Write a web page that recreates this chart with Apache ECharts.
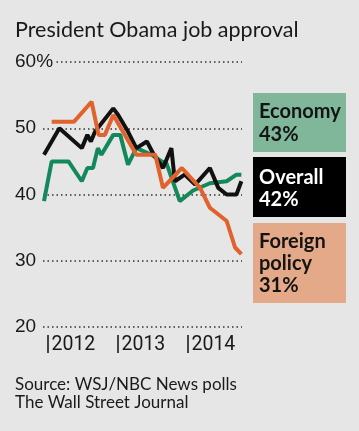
<!DOCTYPE html>
<html>
<head>
<meta charset="utf-8">
<script src="https://cdn.jsdelivr.net/npm/echarts@6/dist/echarts.min.js"></script>
<style>
html,body{margin:0;padding:0;background:#e6e6e6;}
#chart{width:359px;height:431px;}
</style>
</head>
<body>
<div id="chart"></div>
<script>
// ---- data (decimal years, percent approval) ----
var yTicks = [20, 30, 40, 50, 60];
var yearTicks = [2012, 2013, 2014];

var overallX = [2011.95,2012.17,2012.49,2012.57,2012.62,2012.68,2012.94,2013.01,2013.15,2013.27,2013.42,2013.52,2013.65,2013.77,2013.82,2013.96,2014.11,2014.32,2014.44,2014.56,2014.70,2014.77];
var overallY = [46,50,47,49,48,49.5,53,52,49.5,47,48,46,44,47,42,43,41.5,44,41,40,40,42];

var economyX = [2011.95,2012.06,2012.30,2012.49,2012.57,2012.65,2012.72,2012.77,2012.94,2013.04,2013.15,2013.27,2013.49,2013.63,2013.70,2013.89,2014.08,2014.32,2014.56,2014.70,2014.77];
var economyY = [39,45,45,42,44,44,47,46,49,49,44.5,47,46,45,44.7,39,40.6,41.7,42,43,43];

var foreignX = [2012.06,2012.38,2012.63,2012.73,2012.82,2012.94,2013.27,2013.54,2013.65,2013.92,2014.18,2014.32,2014.56,2014.68,2014.77];
var foreignY = [51,51,54,49,49,52,46,46,41,44,41,38,36,32,31];

var labels = { economy: 'Economy', overall: 'Overall', foreign: 'Foreign\npolicy' };

function pairs(xs, ys){ return xs.map(function(x,i){ return [x, ys[i]]; }); }
function last(a){ return a[a.length-1]; }

var HUM = "Lato,'Liberation Sans',sans-serif";
var REG = "'Liberation Sans',Arial,sans-serif";
var YR = "Roboto,'Liberation Sans',sans-serif";
var BG = '#e6e6e6';

var chart = echarts.init(document.getElementById('chart'), null, {renderer:'canvas'});
chart.setOption({
  backgroundColor: BG,
  animation: false,
  title: {
    text: 'President Obama job approval',
    left: 15, top: 19, padding: 0,
    textStyle: {fontFamily: HUM, fontSize: 21.5, fontWeight: 'normal', color: '#1a1a1a'}
  },
  grid: {left: 43, right: 117, top: 62, bottom: 104, containLabel: false},
  xAxis: {
    type: 'value', min: 2011.936, max: 2014.779, offset: 8,
    axisLine: {show: false},
    splitLine: {show: false},
    axisTick: {show: true, customValues: yearTicks, length: 18, lineStyle: {color: '#111', width: 1.5}},
    axisLabel: {customValues: yearTicks, align: 'left', margin: 0, padding: [0,0,0,4],
      fontFamily: YR, fontSize: 19.5, color: '#1a1a1a', formatter: function(v){ return String(v); }}
  },
  yAxis: {
    type: 'value', min: 20, max: 60, interval: 10,
    axisLine: {show: false}, axisTick: {show: false},
    splitLine: {show: true, lineStyle: {color: '#333', width: 1.5, type: [1.5, 3]}},
    axisLabel: {align: 'left', margin: 28, fontFamily: REG, fontSize: 19, color: '#1a1a1a',
      backgroundColor: BG, padding: [0,3,0,0],
      formatter: function(v){ return v === 60 ? '60%' : String(v); }}
  },
  series: [
    {name: 'Economy', type: 'line', data: pairs(economyX, economyY), showSymbol: false,
      lineStyle: {color: '#13885b', width: 4}, itemStyle: {color: '#13885b'}},
    {name: 'Overall', type: 'line', data: pairs(overallX, overallY), showSymbol: false,
      lineStyle: {color: '#111111', width: 4}, itemStyle: {color: '#111111'}},
    {name: 'Foreign policy', type: 'line', data: pairs(foreignX, foreignY), showSymbol: false,
      lineStyle: {color: '#e0622c', width: 4}, itemStyle: {color: '#e0622c'}}
  ],
  graphic: [
    {type: 'rect', shape: {x: 253, y: 93, width: 93, height: 59}, style: {fill: '#80b79b'}},
    {type: 'text', x: 259, y: 100, style: {text: labels.economy + '\n' + last(economyY) + '%', fill: '#141414',
      font: 'bold 20px ' + HUM, lineHeight: 23}},
    {type: 'rect', shape: {x: 253, y: 157, width: 93, height: 60}, style: {fill: '#000000'}},
    {type: 'text', x: 259, y: 167, style: {text: labels.overall + '\n' + last(overallY) + '%', fill: '#ffffff',
      font: 'bold 20px ' + HUM, lineHeight: 22}},
    {type: 'rect', shape: {x: 253, y: 223, width: 93, height: 80}, style: {fill: '#e3a988'}},
    {type: 'text', x: 259, y: 231, style: {text: labels.foreign + '\n' + last(foreignY) + '%', fill: '#141414',
      font: 'bold 20px ' + HUM, lineHeight: 22}},
    {type: 'text', x: 15, y: 376, style: {text: 'Source: WSJ/NBC News polls\nThe Wall Street Journal', fill: '#1a1a1a',
      font: '17px ' + HUM, lineHeight: 17.5}}
  ]
});
</script>
</body>
</html>
